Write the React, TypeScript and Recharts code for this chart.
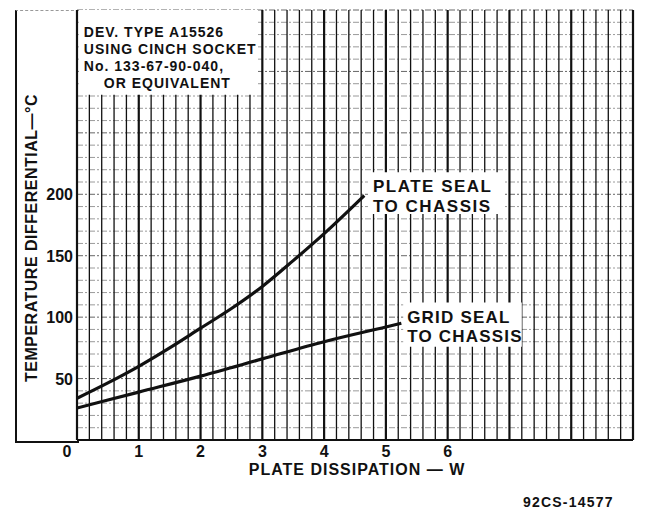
import React from "react";
import {
  LineChart,
  Line,
  XAxis,
  YAxis,
  ReferenceLine,
  ReferenceArea,
  Label,
} from "recharts";

// plate seal to chassis curve
const plateX = [0, 0.5, 1, 1.5, 2, 2.5, 3, 3.5, 4, 4.65];
const plateTemp = [34, 46.5, 60, 75, 91, 107, 125, 146, 168, 199];
// grid seal to chassis curve
const gridX = [0, 1, 2, 3, 4, 5, 5.25];
const gridTemp = [26, 39, 52, 66, 80, 92, 95];

const xTicks = [0, 1, 2, 3, 4, 5, 6];
const yTicks = [50, 100, 150, 200];

const noteLines = ["DEV. TYPE A15526", "USING CINCH SOCKET", "No. 133-67-90-040,", "OR EQUIVALENT"];
const plateLabel = ["PLATE SEAL", "TO CHASSIS"];
const gridLabel = ["GRID SEAL", "TO CHASSIS"];

const FONT = "'Liberation Sans', Arial, sans-serif";
const INK = "#111";

const plateData = plateX.map((x, i) => ({ x, t: plateTemp[i] }));
const gridData = gridX.map((x, i) => ({ x, t: gridTemp[i] }));

// graph paper rulings: 0.2 W and 10 °C
const xRules = Array.from({ length: 46 }, (_, i) => Math.round(i * 20) / 100);
const yRules = Array.from({ length: 36 }, (_, i) => i * 10);

const XTick = (props: any) => {
  const v = props.payload.value;
  return (
    <text
      x={props.x + (v === 0 ? -10 : 0)}
      y={440 + 17}
      textAnchor="middle"
      fontFamily={FONT}
      fontWeight="bold"
      fontSize={16}
      fill={INK}
    >
      {v}
    </text>
  );
};

const YTick = (props: any) => (
  <text
    x={73}
    y={props.y + 6}
    textAnchor="end"
    fontFamily={FONT}
    fontWeight="bold"
    fontSize={16}
    fill={INK}
  >
    {props.payload.value}
  </text>
);

const noteContent = (lines: string[], dx: number[], offsets: number[], size: number, spacing: number) =>
  (props: any) => {
    const vb = props.viewBox || {};
    return (
      <g>
        {lines.map((s, i) => (
          <text
            key={i}
            x={vb.x + dx[i]}
            y={vb.y + offsets[i]}
            fontFamily={FONT}
            fontWeight="bold"
            fontSize={size}
            letterSpacing={spacing}
            fill={INK}
          >
            {s}
          </text>
        ))}
      </g>
    );
  };

export default function App() {
  return (
    <div style={{ position: "absolute", left: 0, top: 0, width: 645, height: 513, background: "#fff" }}>
      <div
        style={{
          position: "absolute",
          left: 15,
          top: 10,
          width: 62,
          height: 430,
          borderLeft: `2px solid ${INK}`,
          borderBottom: `2px solid ${INK}`,
          borderTop: "1px dashed #999",
        }}
      />
      <LineChart width={645} height={513} margin={{ top: 10, right: 12, left: 37, bottom: 43 }}>
        <XAxis
          type="number"
          dataKey="x"
          domain={[0, 9]}
          ticks={xTicks}
          axisLine={false}
          tickLine={false}
          tick={XTick}
          height={30}
          allowDataOverflow
        >
          <Label
            content={() => (
              <text x={357} y={475} textAnchor="middle" fontFamily={FONT} fontWeight="bold" fontSize={16} letterSpacing={1} fill={INK}>
                PLATE DISSIPATION — W
              </text>
            )}
          />
        </XAxis>
        <YAxis
          type="number"
          dataKey="t"
          domain={[0, 350]}
          ticks={yTicks}
          axisLine={false}
          tickLine={false}
          tick={YTick}
          width={40}
          allowDataOverflow
        >
          <Label
            content={() => (
              <text
                transform="translate(37,238) rotate(-90)"
                textAnchor="middle"
                fontFamily={FONT}
                fontWeight="bold"
                fontSize={16}
                letterSpacing={0.5}
                fill={INK}
              >
                TEMPERATURE DIFFERENTIAL—°C
              </text>
            )}
          />
        </YAxis>

        {yRules.map((v) => (
          <ReferenceLine
            key={`h${v}`}
            y={v}
            stroke={v === 0 ? INK : v % 50 === 0 ? "#666" : "#9a9a9a"}
            strokeWidth={v === 0 ? 2 : 1}
            strokeDasharray={v === 0 ? undefined : "6 2 2 2"}
            zIndex={-60}
          />
        ))}
        {xRules.map((v) => (
          <ReferenceLine
            key={`v${v}`}
            x={v}
            stroke={INK}
            strokeWidth={Number.isInteger(v) ? 2.2 : 1.3}
            zIndex={-50}
          />
        ))}

        <ReferenceArea
          x1={0.03}
          x2={2.93}
          y1={281}
          y2={350}
          fill="#fff"
          fillOpacity={1}
          stroke="none"
          zIndex={-10}
          label={noteContent(noteLines, [5, 5, 5, 25], [27, 44, 61, 78], 14, 1)}
        />
        <ReferenceArea
          x1={4.71}
          x2={6.9}
          y1={184}
          y2={218}
          fill="#fff"
          fillOpacity={1}
          stroke="none"
          zIndex={-10}
          label={noteContent(plateLabel, [5, 5], [20, 40], 17, 1.5)}
        />
        <ReferenceArea
          x1={5.28}
          x2={7.2}
          y1={76}
          y2={112}
          fill="#fff"
          fillOpacity={1}
          stroke="none"
          zIndex={-10}
          label={noteContent(gridLabel, [4, 4], [21, 40], 17, 1.2)}
        />

        <Line
          data={plateData}
          dataKey="t"
          type="monotone"
          stroke={INK}
          strokeWidth={3.2}
          dot={false}
          isAnimationActive={false}
        />
        <Line
          data={gridData}
          dataKey="t"
          type="monotone"
          stroke={INK}
          strokeWidth={3.2}
          dot={false}
          isAnimationActive={false}
        />
      </LineChart>
      <svg style={{ position: "absolute", left: 0, top: 0 }} width={645} height={513}>
        <text x={523} y={507} fontFamily={FONT} fontWeight="bold" fontSize={14} letterSpacing={1.2} fill={INK}>
          92CS-14577
        </text>
      </svg>
    </div>
  );
}
